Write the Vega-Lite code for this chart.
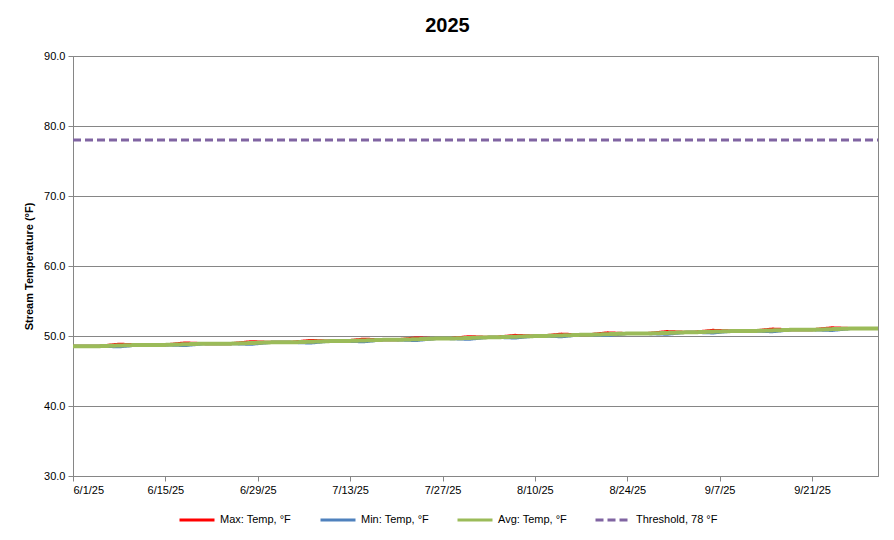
{
  "$schema": "https://vega.github.io/schema/vega-lite/v6.json",
  "width": 805,
  "height": 420,
  "autosize": {"type": "none"},
  "padding": {"left": 73, "top": 56, "right": 16, "bottom": 64},
  "background": "white",
  "title": {"text": "2025", "font": "Liberation Sans", "fontSize": 20, "fontWeight": "bold", "color": "black", "anchor": "middle", "frame": "group", "dx": -28, "offset": 14},
  "config": {
    "view": {"stroke": "#868686", "strokeWidth": 1},
    "axis": {"labelFont": "Liberation Sans", "labelFontSize": 11, "labelColor": "black", "domainColor": "#868686", "tickColor": "#868686", "tickSize": 5, "labelPadding": 3, "titleFont": "Liberation Sans", "titleColor": "black"}
  },
  "datasets": {
    "temps": [
      {"date": "2025-06-01", "max": 48.55, "min": 48.55, "avg": 48.55},
      {"date": "2025-06-05", "max": 48.55, "min": 48.55, "avg": 48.55},
      {"date": "2025-06-08", "max": 48.83, "min": 48.45, "avg": 48.64},
      {"date": "2025-06-11", "max": 48.73, "min": 48.73, "avg": 48.73},
      {"date": "2025-06-15", "max": 48.73, "min": 48.73, "avg": 48.73},
      {"date": "2025-06-18", "max": 49.01, "min": 48.63, "avg": 48.82},
      {"date": "2025-06-21", "max": 48.91, "min": 48.91, "avg": 48.91},
      {"date": "2025-06-25", "max": 48.91, "min": 48.91, "avg": 48.91},
      {"date": "2025-06-28", "max": 49.19, "min": 48.81, "avg": 49.0},
      {"date": "2025-07-01", "max": 49.09, "min": 49.09, "avg": 49.09},
      {"date": "2025-07-04", "max": 49.09, "min": 49.09, "avg": 49.09},
      {"date": "2025-07-07", "max": 49.37, "min": 48.99, "avg": 49.18},
      {"date": "2025-07-10", "max": 49.27, "min": 49.27, "avg": 49.27},
      {"date": "2025-07-12", "max": 49.27, "min": 49.27, "avg": 49.27},
      {"date": "2025-07-15", "max": 49.55, "min": 49.17, "avg": 49.36},
      {"date": "2025-07-18", "max": 49.45, "min": 49.45, "avg": 49.45},
      {"date": "2025-07-20", "max": 49.45, "min": 49.45, "avg": 49.45},
      {"date": "2025-07-23", "max": 49.73, "min": 49.35, "avg": 49.54},
      {"date": "2025-07-26", "max": 49.63, "min": 49.63, "avg": 49.63},
      {"date": "2025-07-28", "max": 49.63, "min": 49.63, "avg": 49.63},
      {"date": "2025-07-31", "max": 49.91, "min": 49.53, "avg": 49.72},
      {"date": "2025-08-03", "max": 49.81, "min": 49.81, "avg": 49.81},
      {"date": "2025-08-04", "max": 49.81, "min": 49.81, "avg": 49.81},
      {"date": "2025-08-07", "max": 50.09, "min": 49.71, "avg": 49.9},
      {"date": "2025-08-10", "max": 49.99, "min": 49.99, "avg": 49.99},
      {"date": "2025-08-11", "max": 49.99, "min": 49.99, "avg": 49.99},
      {"date": "2025-08-14", "max": 50.27, "min": 49.89, "avg": 50.08},
      {"date": "2025-08-17", "max": 50.17, "min": 50.17, "avg": 50.17},
      {"date": "2025-08-18", "max": 50.17, "min": 50.17, "avg": 50.17},
      {"date": "2025-08-21", "max": 50.45, "min": 50.07, "avg": 50.26},
      {"date": "2025-08-24", "max": 50.35, "min": 50.35, "avg": 50.35},
      {"date": "2025-08-27", "max": 50.35, "min": 50.35, "avg": 50.35},
      {"date": "2025-08-30", "max": 50.63, "min": 50.25, "avg": 50.44},
      {"date": "2025-09-02", "max": 50.53, "min": 50.53, "avg": 50.53},
      {"date": "2025-09-03", "max": 50.53, "min": 50.53, "avg": 50.53},
      {"date": "2025-09-06", "max": 50.81, "min": 50.43, "avg": 50.62},
      {"date": "2025-09-09", "max": 50.71, "min": 50.71, "avg": 50.71},
      {"date": "2025-09-12", "max": 50.71, "min": 50.71, "avg": 50.71},
      {"date": "2025-09-15", "max": 50.99, "min": 50.61, "avg": 50.8},
      {"date": "2025-09-18", "max": 50.89, "min": 50.89, "avg": 50.89},
      {"date": "2025-09-21", "max": 50.89, "min": 50.89, "avg": 50.89},
      {"date": "2025-09-24", "max": 51.17, "min": 50.79, "avg": 50.98},
      {"date": "2025-09-27", "max": 51.07, "min": 51.07, "avg": 51.07},
      {"date": "2025-10-01", "max": 51.07, "min": 51.07, "avg": 51.07}
    ],
    "threshold": [
      {"date": "2025-06-01", "thr": 78},
      {"date": "2025-10-01", "thr": 78}
    ]
  },
  "encoding": {
    "x": {
      "field": "date", "type": "temporal",
      "scale": {"type": "utc", "domain": [{"year": 2025, "month": 6, "date": 1, "utc": true}, {"year": 2025, "month": 10, "date": 1, "utc": true}]},
      "axis": {
        "title": null, "grid": false,
        "labelExpr": "utcFormat(datum.value, '%-m/%-d/%y')",
        "values": [
          {"year": 2025, "month": 6, "date": 1, "utc": true},
          {"year": 2025, "month": 6, "date": 15, "utc": true},
          {"year": 2025, "month": 6, "date": 29, "utc": true},
          {"year": 2025, "month": 7, "date": 13, "utc": true},
          {"year": 2025, "month": 7, "date": 27, "utc": true},
          {"year": 2025, "month": 8, "date": 10, "utc": true},
          {"year": 2025, "month": 8, "date": 24, "utc": true},
          {"year": 2025, "month": 9, "date": 7, "utc": true},
          {"year": 2025, "month": 9, "date": 21, "utc": true}
        ]
      }
    },
    "y": {
      "field": "value", "type": "quantitative",
      "scale": {"domain": [30, 90], "nice": false, "zero": false},
      "axis": {"values": [30, 40, 50, 60, 70, 80, 90], "format": ".1f", "title": "Stream Temperature (°F)", "titleFontSize": 11, "titleFontWeight": "bold", "titlePadding": 9, "grid": true, "gridColor": "#868686", "gridWidth": 1}
    },
    "color": {
      "field": "series", "type": "nominal",
      "scale": {"domain": ["max", "min", "avg", "thr"], "range": ["#FF0000", "#4F81BD", "#9BBB59", "#8064A2"]},
      "legend": {
        "orient": "none", "legendX": 105, "legendY": 445, "direction": "horizontal", "title": null,
        "symbolType": "stroke", "symbolSize": 1225, "symbolStrokeWidth": 3, "columnPadding": 22, "labelOffset": 4,
        "labelFont": "Liberation Sans", "labelFontSize": 11, "labelColor": "black", "labelLimit": 0,
        "labelExpr": "datum.value == 'max' ? 'Max: Temp, °F' : datum.value == 'min' ? 'Min: Temp, °F' : datum.value == 'avg' ? 'Avg: Temp, °F' : 'Threshold, 78 °F'"
      }
    },
    "strokeDash": {
      "field": "series", "type": "nominal",
      "scale": {"domain": ["max", "min", "avg", "thr"], "range": [[1, 0], [1, 0], [1, 0], [8, 4]]}
    }
  },
  "layer": [
    {
      "data": {"name": "temps"},
      "transform": [{"fold": ["max", "min"], "as": ["series", "value"]}],
      "mark": {"type": "line", "strokeWidth": 3}
    },
    {
      "data": {"name": "temps"},
      "transform": [{"fold": ["avg"], "as": ["series", "value"]}],
      "mark": {"type": "line", "strokeWidth": 4}
    },
    {
      "data": {"name": "threshold"},
      "transform": [{"fold": ["thr"], "as": ["series", "value"]}],
      "mark": {"type": "line", "strokeWidth": 3}
    }
  ]
}
